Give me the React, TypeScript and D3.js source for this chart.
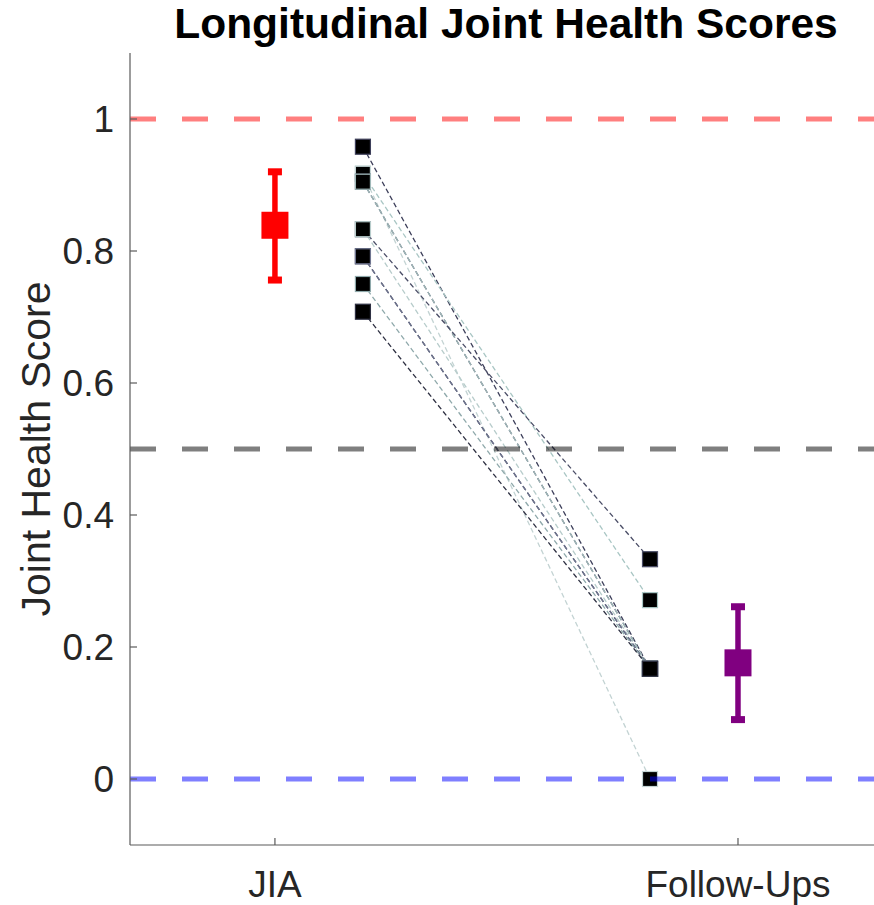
import React from "react";
import * as d3 from "d3";

// ---- data ----
const groups = ["JIA", "Follow-Ups"];
const groupPos = [1, 2];
const groupMeans = [0.839, 0.176];
const groupLower = [0.756, 0.09];
const groupUpper = [0.92, 0.261];
const groupColors = ["#ff0000", "#800080"];

const pairPos = [1.19, 1.81];
const baseline = [0.958, 0.917, 0.917, 0.905, 0.905, 0.833, 0.833, 0.792, 0.792, 0.75, 0.708];
const followUp = [0.167, 0.271, 0.0, 0.167, 0.167, 0.333, 0.167, 0.167, 0.167, 0.167, 0.167];
const subjectColors = [
  "#3d3f5a", "#a9c6c4", "#c3d3d3", "#55586f", "#9fb8b8",
  "#4a4d66", "#b7cccb", "#35374e", "#6f7590", "#8fa9ab", "#2e3042",
];

const refValues = [1, 0.5, 0];
const refColors = ["rgba(255,0,0,0.5)", "rgba(0,0,0,0.5)", "rgba(0,0,255,0.5)"];

const yTicks = [0, 0.2, 0.4, 0.6, 0.8, 1];
const yTickLabels = ["0", "0.2", "0.4", "0.6", "0.8", "1"];

export default function App() {
  const W = 874;
  const H = 905;
  const left = 130;
  const right = 882;
  const top = 53;
  const bottom = 845;

  const x = d3.scaleLinear().domain([0.687, 2.311]).range([left, right]);
  const y = d3.scaleLinear().domain([-0.1, 1.1]).range([bottom, top]);

  const font = "Arial, 'Liberation Sans', Helvetica, sans-serif";
  const txt = "#262626";
  const axisCol = "#5a5a5a";
  const line = d3.line<[number, number]>().x((d) => x(d[0])).y((d) => y(d[1]));

  const sq = 15;
  const big = 27;

  return (
    <svg width={W} height={H} style={{ position: "absolute", left: 0, top: 0 }} fontFamily={font}>
      <defs>
        <clipPath id="plot">
          <rect x={left} y={top} width={right - left} height={bottom - top} />
        </clipPath>
      </defs>
      <rect x={0} y={0} width={W} height={H} fill="#fff" />

      {/* connecting lines */}
      <g>
        {baseline.map((b, i) => (
          <path
            key={"l" + i}
            d={line([[pairPos[0], b], [pairPos[1], followUp[i]]]) || ""}
            fill="none"
            stroke={subjectColors[i]}
            strokeWidth={1.3}
            strokeDasharray="5,3"
          />
        ))}
      </g>
      {/* subject squares */}
      <g>
        {baseline.map((b, i) => (
          <g key={"s" + i}>
            <rect x={x(pairPos[0]) - sq / 2} y={y(b) - sq / 2} width={sq} height={sq} fill="#000" stroke={subjectColors[i]} strokeWidth={1.2} />
            <rect x={x(pairPos[1]) - sq / 2} y={y(followUp[i]) - sq / 2} width={sq} height={sq} fill="#000" stroke={subjectColors[i]} strokeWidth={1.2} />
          </g>
        ))}
      </g>

      {/* group mean and error bars */}
      {groups.map((g, i) => {
        const cx = x(groupPos[i]);
        return (
          <g key={"g" + i} fill={groupColors[i]}>
            <line x1={cx} x2={cx} y1={y(groupLower[i])} y2={y(groupUpper[i])} stroke={groupColors[i]} strokeWidth={5.5} />
            <rect x={cx - 7} y={y(groupUpper[i]) - 3.5} width={14} height={7} />
            <rect x={cx - 7} y={y(groupLower[i]) - 3.5} width={14} height={7} />
            <rect x={cx - big / 2} y={y(groupMeans[i]) - big / 2} width={big} height={big} />
          </g>
        );
      })}

      {/* reference lines */}
      <g clipPath="url(#plot)">
        {refValues.map((v, i) => (
          <line
            key={"r" + i}
            x1={left}
            x2={right}
            y1={y(v)}
            y2={y(v)}
            stroke={refColors[i]}
            strokeWidth={5}
            strokeDasharray="26,26"
          />
        ))}
      </g>

      {/* axes */}
      <line x1={left} x2={left} y1={top} y2={bottom} stroke={axisCol} strokeWidth={1.2} />
      <line x1={left} x2={right} y1={bottom} y2={bottom} stroke={axisCol} strokeWidth={1.2} />
      {yTicks.map((t, i) => (
        <g key={"yt" + i}>
          <line x1={left} x2={left + 7} y1={y(t)} y2={y(t)} stroke={axisCol} strokeWidth={1.2} />
          <text x={left - 16} y={y(t)} dy="0.36em" textAnchor="end" fontSize={37} fill={txt}>
            {yTickLabels[i]}
          </text>
        </g>
      ))}
      {groups.map((g, i) => (
        <g key={"xt" + i}>
          <line x1={x(groupPos[i])} x2={x(groupPos[i])} y1={bottom} y2={bottom - 7} stroke={axisCol} strokeWidth={1.2} />
          <text x={x(groupPos[i])} y={897} textAnchor="middle" fontSize={37} fill={txt}>
            {g}
          </text>
        </g>
      ))}
      <text
        transform={`translate(50, ${(top + bottom) / 2}) rotate(-90)`}
        textAnchor="middle"
        fontSize={41}
        fill={txt}
      >
        Joint Health Score
      </text>
      <text x={506} y={38} textAnchor="middle" fontSize={42.5} fontWeight="bold" fill="#000">
        Longitudinal Joint Health Scores
      </text>
    </svg>
  );
}
